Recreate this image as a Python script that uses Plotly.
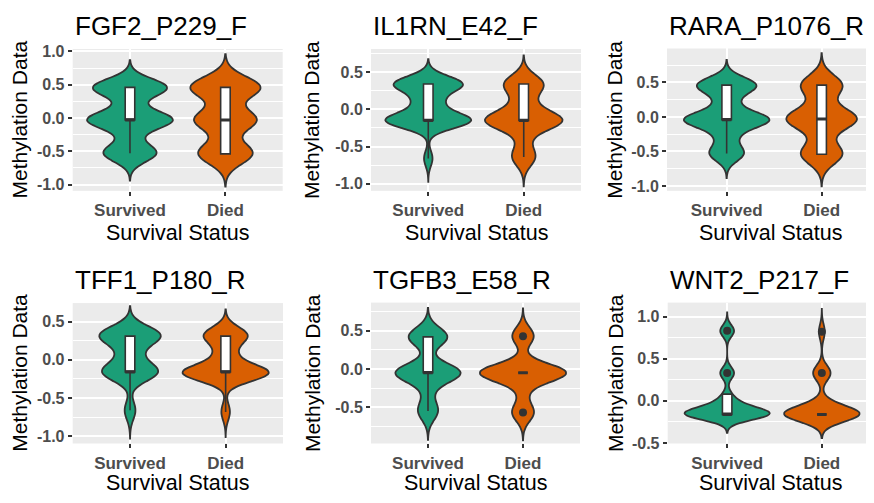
import numpy as np
import plotly.graph_objects as go

# the page body adds an 8px margin round the figure, so the figure is drawn 8px in
PAGE = 8
W, H = 874 - PAGE, 503 - PAGE
FONT = "Liberation Sans, Arial, sans-serif"

categories = ["Survived", "Died"]
colors = ["#1B9E77", "#D95F02"]
probe_names = ["FGF2_P229_F", "IL1RN_E42_F", "RARA_P1076_R",
               "TFF1_P180_R", "TGFB3_E58_R", "WNT2_P217_F"]

# methylation values: (survived, died)
fgf2 = ([0.44, 0.45, 0.46, 0.46, 0.46, 0.47, 0.48, 0.22, -0.05, -0.04, -0.03, -0.03,
         -0.03, -0.03, -0.02, -0.01, -0.28, -0.55, -0.54, -0.53, -0.52, -0.51],
        [0.44, 0.45, 0.45, 0.46, 0.46, 0.46, 0.47, 0.47, 0.48, -0.05, -0.04, -0.04,
         -0.03, -0.03, -0.02, -0.02, -0.01, -0.55, -0.54, -0.54, -0.53, -0.53, -0.52, -0.51])
il1rn = ([0.32, 0.33, 0.33, 0.34, 0.34, 0.35, 0.35, 0.36, 0.08, 0.10, 0.12, -0.17, -0.16,
          -0.16, -0.15, -0.15, -0.15, -0.15, -0.14, -0.14, -0.13, -0.66],
         [0.33, 0.34, 0.34, 0.35, 0.35, 0.08, 0.12, -0.17, -0.16, -0.16, -0.15, -0.15,
          -0.15, -0.15, -0.14, -0.14, -0.13, -0.40, -0.66, -0.64, -0.62])
rara = ([0.44, 0.45, 0.46, 0.46, 0.46, 0.47, 0.48, 0.21, 0.23, -0.06, -0.05, -0.05, -0.04,
         -0.04, -0.04, -0.04, -0.03, -0.03, -0.02, -0.29, -0.27, -0.54, -0.53, -0.53, -0.52],
        [0.44, 0.45, 0.46, 0.46, 0.47, 0.48, 0.20, -0.05, -0.04, -0.04, -0.03, -0.03, -0.03,
         -0.03, -0.02, -0.02, -0.01, -0.28, -0.56, -0.55, -0.54, -0.54, -0.53, -0.52])
tff1 = ([0.30, 0.31, 0.31, 0.32, 0.32, 0.32, 0.32, 0.33, 0.33, 0.34, 0.34, 0.06, 0.08, 0.10,
         -0.18, -0.17, -0.17, -0.16, -0.16, -0.16, -0.16, -0.15, -0.15, -0.14, -0.67, -0.65],
        [0.31, 0.32, 0.32, 0.33, 0.33, 0.07, 0.09, -0.19, -0.18, -0.18, -0.17, -0.17, -0.17,
         -0.17, -0.16, -0.16, -0.15, -0.68])
tgfb3 = ([0.41, 0.41, 0.42, 0.42, 0.43, 0.43, -0.07, -0.06, -0.06, -0.05, -0.05, -0.05,
          -0.05, -0.04, -0.04, -0.03, -0.30, -0.56, -0.55, -0.54],
         [0.42, 0.43, 0.44, -0.07, -0.06, -0.06, -0.05, -0.05, -0.05, -0.05, -0.05, -0.05,
          -0.04, -0.04, -0.03, -0.30, -0.58, -0.57, -0.56])
wnt2 = ([-0.17, -0.17, -0.17, -0.16, -0.16, -0.16, -0.16, -0.16, -0.16, -0.16, -0.16, -0.16,
         -0.16, -0.15, -0.15, -0.15, -0.09, -0.08, -0.08, -0.07, -0.01, 0.01, 0.08,
         0.32, 0.33, 0.34, 0.82, 0.83, 0.84],
        [-0.17, -0.17, -0.16, -0.16, -0.16, -0.16, -0.16, -0.16, -0.16, -0.16, -0.15, -0.15,
         -0.06, -0.04, 0.32, 0.33, 0.34, 0.82])
samples = [fgf2, il1rn, rara, tff1, tgfb3, wnt2]

bw_survived = [0.13, 0.105, 0.115, 0.12, 0.123, 0.07]
bw_died = [0.16, 0.125, 0.148, 0.11, 0.118, 0.09]

# boxplot statistics: [survived, died]
box_q1 = [[-0.03, -0.54], [-0.15, -0.15], [-0.04, -0.54], [-0.16, -0.16], [-0.05, -0.05], [-0.16, -0.16]]
box_median = [[-0.03, -0.03], [-0.15, -0.15], [-0.04, -0.03], [-0.16, -0.16], [-0.05, -0.05], [-0.16, -0.16]]
box_q3 = [[0.46, 0.46], [0.34, 0.34], [0.46, 0.46], [0.31, 0.31], [0.42, -0.05], [0.08, -0.16]]
box_lower = [[-0.53, -0.54], [-0.66, -0.64], [-0.53, -0.54], [-0.66, -0.68], [-0.55, -0.05], [-0.16, -0.16]]
box_upper = [[0.46, 0.46], [0.34, 0.34], [0.46, 0.46], [0.31, 0.31], [0.42, -0.05], [0.08, -0.16]]
outliers_survived = [[], [], [], [], [], [0.33, 0.83]]
outliers_died = [[], [], [], [], [0.43, -0.57], [0.33, 0.82]]

y_ticks = [[-1.0, -0.5, 0.0, 0.5, 1.0], [-1.0, -0.5, 0.0, 0.5], [-1.0, -0.5, 0.0, 0.5],
           [-1.0, -0.5, 0.0, 0.5], [-0.5, 0.0, 0.5], [-0.5, 0.0, 0.5, 1.0]]
y_ranges = [[-1.095, 1.036], [-1.095, 0.81], [-1.07, 0.99],
            [-1.093, 0.741], [-0.976, 0.869], [-0.505, 1.165]]
x_ranges = [[-0.6, 1.6], [-0.6, 1.6], [-0.628, 1.551],
            [-0.6, 1.6], [-0.6, 1.6], [-0.628, 1.551]]

# panel boxes in window pixels: left, right, top, bottom
panel_px = [(72.7, 282.7, 44, 190), (371, 581, 44, 190), (667, 874, 43.5, 190),
            (72.7, 283, 305.5, 450), (371, 580, 305, 450), (667.7, 874, 305, 450)]
ytitle_x = [19.5, 312, 615, 19.5, 312, 615]
xtitle_y = [233, 233, 233, 491, 491, 491]


def px_x(x):
    return (x - PAGE) / W


def px_y(y):
    return 1 - (y - PAGE) / H


def kde_peak(vals, bw):
    v = np.asarray(vals)
    grid = np.linspace(v.min() - 3 * bw, v.max() + 3 * bw, 800)
    dens = np.exp(-0.5 * ((grid[:, None] - v[None, :]) / bw) ** 2).sum(axis=1)
    return dens.max() / (len(v) * bw)


fig = go.Figure()
annotations = []

for i in range(6):
    ax = "" if i == 0 else str(i + 1)
    groups = samples[i]
    bws = [bw_survived[i], bw_died[i]]
    peaks = [kde_peak(g, b) for g, b in zip(groups, bws)]

    # violins, scaled to equal area like ggplot's default
    for j in range(2):
        vals, bw = groups[j], bws[j]
        fig.add_trace(go.Violin(
            x=[categories[j]] * len(vals), y=vals,
            xaxis="x" + ax, yaxis="y" + ax,
            bandwidth=bw, spanmode="manual",
            span=[min(vals) - 3 * bw, max(vals) + 3 * bw],
            width=0.9 * peaks[j] / max(peaks),
            scalemode="width", scalegroup="g%d%d" % (i, j),
            fillcolor=colors[j], line=dict(color="#333333", width=1.8),
            points=False, box_visible=False, meanline_visible=False,
            showlegend=False, hoverinfo="skip"
        ))

    fig.add_trace(go.Box(
        x=categories, q1=box_q1[i], median=box_median[i], q3=box_q3[i],
        lowerfence=box_lower[i], upperfence=box_upper[i],
        xaxis="x" + ax, yaxis="y" + ax,
        width=0.1, whiskerwidth=0, boxpoints=False,
        fillcolor="white", line=dict(color="#333333", width=1.6),
        showlegend=False, hoverinfo="skip"
    ))
    # thicker median bar, as ggplot draws it
    fig.add_trace(go.Box(
        x=categories, q1=box_median[i], median=box_median[i], q3=box_median[i],
        lowerfence=box_median[i], upperfence=box_median[i],
        xaxis="x" + ax, yaxis="y" + ax,
        width=0.1, whiskerwidth=0, boxpoints=False,
        fillcolor="#333333", line=dict(color="#333333", width=3),
        showlegend=False, hoverinfo="skip"
    ))

    out_x = [categories[0]] * len(outliers_survived[i]) + [categories[1]] * len(outliers_died[i])
    out_y = outliers_survived[i] + outliers_died[i]
    if out_y:
        fig.add_trace(go.Scatter(
            x=out_x, y=out_y, mode="markers",
            xaxis="x" + ax, yaxis="y" + ax,
            marker=dict(color="#333333", size=8),
            showlegend=False, hoverinfo="skip"
        ))

    l, r, t, b = panel_px[i]
    ticks = y_ticks[i]
    step = ticks[1] - ticks[0]
    lo, hi = y_ranges[i]
    minor = [v + step / 2 for v in [ticks[0] - step] + ticks]
    minor = [m for m in minor if lo < m < hi]

    fig.layout["xaxis" + ax] = dict(
        domain=[px_x(l), min(px_x(r), 1)], anchor="y" + ax, type="category",
        categoryorder="array", categoryarray=categories, range=x_ranges[i],
        showgrid=True, gridcolor="white", gridwidth=2, zeroline=False,
        ticks="outside", ticklen=4, tickwidth=1.5, tickcolor="#333333",
        tickfont=dict(family=FONT, size=17, color="#4D4D4D", weight="bold"),
        fixedrange=True
    )
    fig.layout["yaxis" + ax] = dict(
        domain=[px_y(b), px_y(t)], anchor="x" + ax, range=y_ranges[i],
        tickmode="array", tickvals=ticks, ticktext=["%.1f" % v for v in ticks],
        showgrid=True, gridcolor="white", gridwidth=2, zeroline=False,
        minor=dict(tickmode="array", tickvals=minor, showgrid=True,
                   gridcolor="white", gridwidth=1),
        ticks="outside", ticklen=4, tickwidth=1.5, tickcolor="#333333",
        tickfont=dict(family=FONT, size=16, color="#4D4D4D", weight="bold"),
        fixedrange=True
    )

    # panel title, axis titles
    annotations.append(dict(
        text=probe_names[i], x=px_x(l), y=px_y(t - 23.5),
        xref="paper", yref="paper", xanchor="left", yanchor="middle",
        showarrow=False, font=dict(family=FONT, size=26, color="black")
    ))
    annotations.append(dict(
        text="Survival Status", x=px_x((l + r) / 2), y=px_y(xtitle_y[i]),
        xref="paper", yref="paper", xanchor="center", yanchor="middle",
        showarrow=False, font=dict(family=FONT, size=21.5, color="black")
    ))
    annotations.append(dict(
        text="Methylation Data", x=px_x(ytitle_x[i]), y=px_y((t + b) / 2),
        xref="paper", yref="paper", xanchor="center", yanchor="middle",
        textangle=-90, showarrow=False,
        font=dict(family=FONT, size=21, color="black")
    ))

fig.update_layout(
    width=W, height=H, autosize=False,
    margin=dict(l=0, r=0, t=0, b=0),
    paper_bgcolor="white", plot_bgcolor="#EBEBEB",
    violinmode="overlay", boxmode="overlay",
    annotations=annotations,
    font=dict(family=FONT)
)

fig.write_html("out.html")
